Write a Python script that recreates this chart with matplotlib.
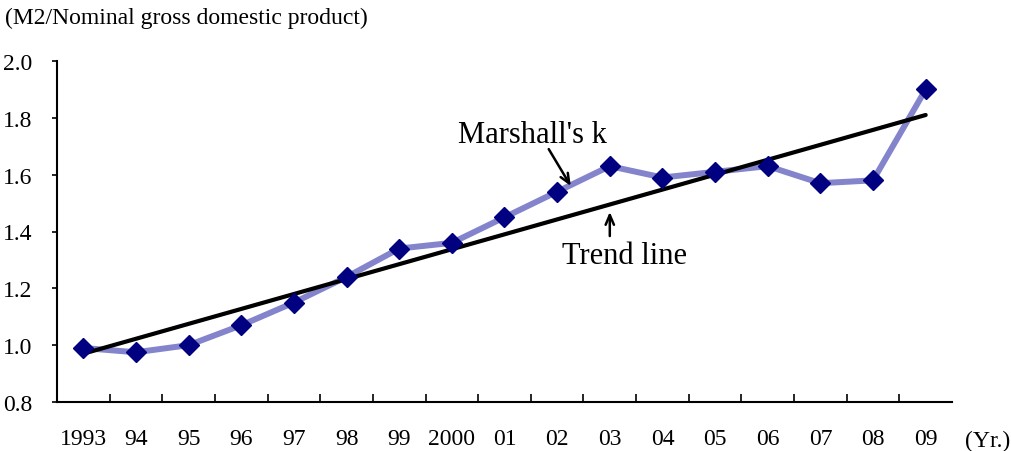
import numpy as np
import matplotlib
matplotlib.use("Agg")
import matplotlib.pyplot as plt

plt.rcParams['font.family'] = ['Liberation Serif', 'DejaVu Serif']

# data
years = ['1993', '94', '95', '96', '97', '98', '99', '2000', '01', '02',
         '03', '04', '05', '06', '07', '08', '09']
marshall_k = [0.99, 0.975, 1.00, 1.07, 1.15, 1.24, 1.34, 1.36, 1.45, 1.54,
              1.63, 1.59, 1.61, 1.63, 1.57, 1.58, 1.90]
trend_ends = [0.97, 1.81]   # trend line at first and last year

x = np.arange(len(years))

fig = plt.figure(figsize=(10.12, 4.52), dpi=100)
ax = fig.add_axes([57/1012, 1 - 403/452, (952 - 57)/1012, (403 - 62)/452])

ax.plot(x, marshall_k, color='#8484cc', lw=4.3, zorder=2, solid_joinstyle='round')
ax.plot(x, marshall_k, ls='none', marker='D', ms=10, color='#000080', zorder=4)
ax.plot([x[0], x[-1]], trend_ends, color='black', lw=3, zorder=3,
        solid_capstyle='round')

ax.set_xlim(-0.5, len(years) - 0.5)
ax.set_ylim(0.8, 2.0)
ax.set_yticks(np.arange(0.8, 2.01, 0.2))
ax.set_yticklabels([f'{v:.1f}' for v in np.arange(0.8, 2.01, 0.2)])

# x ticks at category boundaries, labels centred under points
ax.set_xticks(np.arange(0.5, len(years) - 0.5, 1.0))
ax.set_xticklabels([])
ax.set_xticks(x, minor=True)
ax.set_xticklabels(years, minor=True)
ax.tick_params(axis='x', which='major', direction='in', length=6, width=1.2)
ax.tick_params(axis='x', which='minor', length=0, pad=19, labelsize=17)
ax.tick_params(axis='y', direction='out', length=3.6, width=1.2, pad=14,
               labelsize=17)

for s in ['top', 'right']:
    ax.spines[s].set_visible(False)
for s in ['left', 'bottom']:
    ax.spines[s].set_linewidth(1.5)

fig.text(5/1012, 1 - 18/452, '(M2/Nominal gross domestic product)',
         fontsize=17, va='center', ha='left')
fig.text(1010/1012, 1 - 441/452, '(Yr.)', fontsize=17, va='center',
         ha='right')

arrow = dict(arrowstyle='->,head_length=0.7,head_width=0.3', lw=1.8,
             color='black', shrinkA=0, shrinkB=0)
ax.text(8.54, 1.743, "Marshall's k", fontsize=22, ha='center', va='center')
ax.annotate('', xy=(9.26, 1.56), xytext=(8.84, 1.69), arrowprops=arrow)
ax.text(10.27, 1.314, 'Trend line', fontsize=22, ha='center', va='center')
ax.annotate('', xy=(10.0, 1.469), xytext=(10.0, 1.384), arrowprops=arrow)

fig.savefig('out.png', dpi=100)
